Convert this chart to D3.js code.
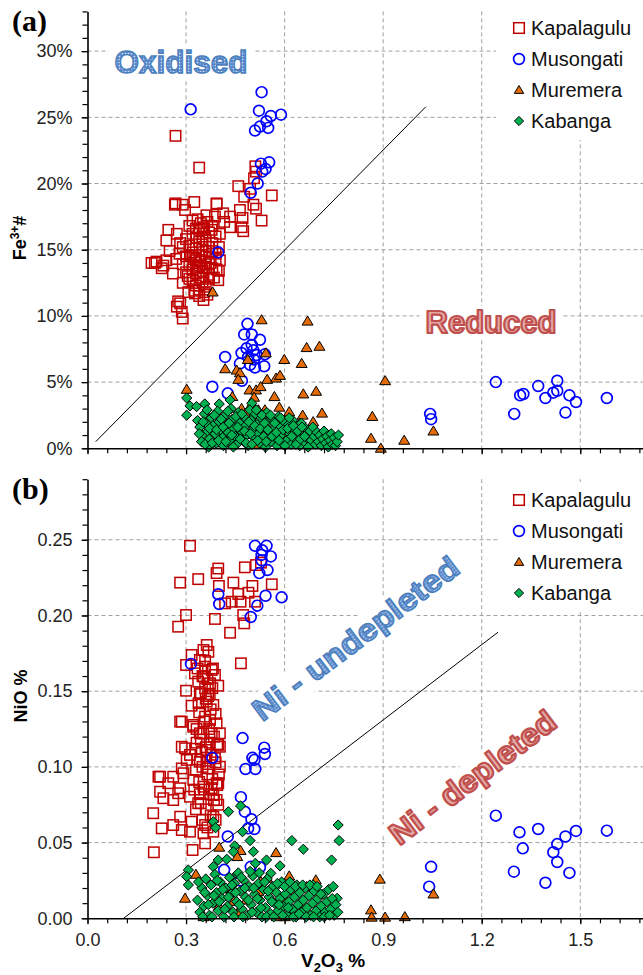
<!DOCTYPE html>
<html>
<head>
<meta charset="utf-8">
<script src="https://cdnjs.cloudflare.com/ajax/libs/d3/7.8.5/d3.min.js"></script>
<style>
body { margin: 0; background: #fff; }
svg { display: block; }
</style>
</head>
<body>
<svg id="chart" width="643" height="975"></svg>
<script>
"use strict";

var seriesNames = ["Kapalagulu", "Musongati", "Muremera", "Kabanga"];

var xMajor = [0, 0.3, 0.6, 0.9, 1.2, 1.5],
	xLabels = ["0.0", "0.3", "0.6", "0.9", "1.2", "1.5"],
	yMajorTop = [0, 5, 10, 15, 20, 25, 30],
	yLabelsTop = ["0%", "5%", "10%", "15%", "20%", "25%", "30%"],
	yMajorBot = [0, 0.05, 0.10, 0.15, 0.20, 0.25],
	yLabelsBot = ["0.00", "0.05", "0.10", "0.15", "0.20", "0.25"];

// boundary lines [x, y]
var lineTop = [[0.025, 0.5], [1.03, 25.8]],
	lineBot = [[0.11, 0.0], [1.25, 0.189]];

// (a) V2O3 % vs Fe3+# (%)
var kapTop = [
	[0.268,23.6],[0.34,21.2],
	[0.511,21.3],[0.513,20.9],[0.507,20.4],[0.459,19.8],[0.495,19.6],[0.477,19.0],[0.561,19.1],[0.505,18.4],
	[0.513,18.1],[0.393,18.5],[0.464,18.0],[0.434,17.5],[0.472,17.4],[0.530,17.2],[0.434,16.7],[0.469,16.7],[0.474,16.4],[0.416,17.1],
	[0.268,18.5],[0.29,18.4],[0.325,18.6],[0.393,18.45],[0.297,18.0],[0.362,17.6],[0.388,17.5],[0.413,17.75],[0.32,17.2],[0.246,16.5],
	[0.272,16.2],[0.24,15.7],[0.282,15.5],[0.353,16.7],[0.378,16.5],[0.403,16.2],[0.266,18.4],
	[0.195,14.0],[0.21,14.1],[0.231,13.8],[0.24,14.2],[0.226,13.6],[0.282,10.95],[0.272,10.7],[0.29,9.8],[0.287,10.3],
	[0.307,11.8],[0.353,11.2],[0.327,11.7],[0.398,12.7],[0.393,13.5],[0.403,14.2],[0.276,11.1],[0.205,14.0],
	[0.31,16.8],[0.32,16.2],[0.33,15.9],[0.34,16.5],[0.35,16.0],[0.36,15.7],[0.37,16.3],[0.38,15.5],[0.39,16.0],[0.40,15.2],
	[0.31,15.3],[0.32,14.8],[0.33,15.1],[0.34,14.6],[0.35,15.4],[0.36,14.9],[0.37,14.4],[0.38,14.9],[0.39,14.3],[0.33,14.2],
	[0.30,14.5],[0.31,13.9],[0.32,13.5],[0.33,13.2],[0.34,13.8],[0.35,13.4],[0.36,13.9],[0.37,13.1],[0.38,13.6],[0.345,12.9],
	[0.32,12.7],[0.33,12.3],[0.34,12.0],[0.35,12.5],[0.36,12.2],[0.37,12.8],[0.355,11.8],[0.34,11.5],[0.325,11.9],[0.365,11.6],
	[0.30,15.8],[0.29,15.2],[0.28,14.7],[0.27,14.3],[0.29,13.9],[0.30,13.3],[0.31,12.8],[0.29,12.5],[0.26,13.2],[0.25,14.9],
	[0.345,17.0],[0.355,16.6],[0.335,17.3],[0.365,17.1],[0.375,14.0],[0.385,12.9],[0.345,14.1],[0.355,13.6],[0.335,13.7],[0.325,14.4],
	[0.35,15.0],[0.36,14.5],[0.34,15.6],[0.33,16.6],[0.37,15.2],[0.38,16.8],[0.39,14.7],[0.40,13.4],[0.315,14.6],[0.305,13.0]
];
var musTop = [
	[0.314,25.6],[0.530,26.9],[0.522,25.5],[0.558,25.1],[0.589,25.2],[0.545,24.7],[0.525,24.3],[0.550,24.2],[0.510,24.0],
	[0.528,21.5],[0.553,21.6],[0.542,21.1],[0.532,20.9],[0.518,20.0],[0.497,19.3],[0.398,14.8],
	[0.487,9.4],[0.477,8.6],[0.500,8.6],[0.525,8.2],[0.500,7.8],[0.484,7.55],[0.505,7.4],[0.419,6.9],[0.469,7.2],[0.515,7.05],
	[0.540,7.1],[0.489,6.9],[0.507,6.7],[0.464,6.4],[0.495,6.3],[0.510,6.1],[0.538,6.2],[0.470,5.1],[0.380,4.65],[0.427,4.15],
	[1.043,2.6],[1.046,2.2],[1.243,5.0],[1.299,2.6],[1.317,4.0],[1.327,4.1],[1.372,4.7],[1.394,3.8],[1.418,4.2],[1.430,5.1],
	[1.430,4.35],[1.455,2.7],[1.467,4.0],[1.487,3.5],[1.581,3.8]
];
var murTop = [
	[0.530,9.7],[0.670,9.6],[0.667,7.6],[0.706,7.7],[0.543,7.2],[0.488,6.7],[0.599,6.7],[0.652,6.4],[0.419,6.0],[0.454,5.9],
	[0.464,5.7],[0.459,5.2],[0.547,5.2],[0.574,5.3],[0.586,5.5],[0.906,5.1],[0.302,4.45],[0.493,4.4],[0.513,4.4],[0.527,4.65],
	[0.441,3.9],[0.507,3.85],[0.569,3.9],[0.657,4.1],[0.696,4.3],[0.469,3.0],[0.52,2.9],[0.5,3.35],[0.584,3.1],[0.614,2.75],
	[0.655,2.5],[0.714,2.65],[0.540,2.9],[0.482,2.65],[0.687,2.0],[0.867,2.4],[0.863,0.75],[0.893,0.0],[0.601,0.6],[0.413,0.4],
	[0.378,0.4],[0.647,1.9],[0.464,1.9],[0.434,1.6],[0.381,11.8],[0.964,0.6],[1.053,1.3],[0.39,1.2],[0.55,1.5],[0.62,1.0],
	[0.45,0.9],[0.52,0.3]
];
var kabTop = [
	[0.302,3.8],[0.302,2.5],[0.312,3.2],[0.332,3.15],[0.357,3.35],[0.401,3.35],[0.434,3.65],[0.50,3.4],[0.505,2.4],
	[0.335,2.1],[0.342,1.6],[0.350,1.0],[0.347,0.5],[0.356,2.6],[0.361,1.9],[0.366,1.3],[0.371,0.7],[0.369,0.1],[0.377,2.3],
	[0.382,1.7],[0.388,1.1],[0.392,0.4],[0.396,2.8],[0.401,2.0],[0.405,1.4],[0.411,0.8],[0.414,0.2],[0.419,2.5],[0.424,1.8],
	[0.428,1.2],[0.433,0.6],[0.437,3.0],[0.441,2.2],[0.446,1.5],[0.450,0.9],[0.454,0.3],[0.459,2.7],[0.463,1.9],[0.468,1.3],
	[0.472,0.6],[0.476,2.4],[0.481,1.7],[0.485,1.0],[0.489,0.2],[0.494,2.9],[0.498,2.1],[0.503,1.4],[0.507,0.8],[0.511,2.6],
	[0.516,1.8],[0.520,1.1],[0.524,0.4],[0.529,2.3],[0.533,1.6],[0.537,0.9],[0.542,0.1],[0.546,2.7],[0.551,2.0],[0.555,1.2],
	[0.559,0.5],[0.564,2.2],[0.568,1.5],[0.572,0.8],[0.577,0.2],[0.581,2.4],[0.586,1.7],[0.590,1.0],[0.594,0.4],[0.599,2.0],
	[0.603,1.3],[0.607,0.6],[0.612,1.8],[0.616,1.1],[0.620,0.3],[0.625,2.1],[0.629,1.4],[0.633,0.7],[0.638,1.7],[0.642,1.0],
	[0.646,0.2],[0.651,1.9],[0.655,1.2],[0.659,0.5],[0.664,1.5],[0.668,0.8],[0.672,0.1],[0.677,1.3],[0.681,0.6],[0.686,1.6],
	[0.690,0.9],[0.694,0.3],[0.699,1.2],[0.703,0.5],[0.707,1.0],[0.712,0.2],[0.716,0.7],[0.720,1.3],[0.725,0.4],[0.729,0.9],
	[0.733,0.1],[0.738,0.6],[0.742,1.1],[0.746,0.3],[0.751,0.8],[0.755,0.2],[0.760,0.5],[0.764,1.0],
	[0.340,1.1],[0.352,2.0],[0.358,0.3],[0.364,2.9],[0.372,1.5],[0.380,0.4],[0.386,2.5],[0.393,1.4],[0.399,0.6],[0.407,2.2],
	[0.413,1.6],[0.421,0.5],[0.427,2.8],[0.431,1.9],[0.439,1.0],[0.444,0.1],[0.452,2.4],[0.457,1.6],[0.465,0.7],[0.470,2.6],
	[0.478,1.3],[0.483,0.4],[0.491,2.0],[0.496,1.1],[0.501,0.3],[0.509,1.7],[0.514,2.9],[0.518,0.6],[0.526,1.5],[0.531,2.5],
	[0.539,1.9],[0.544,0.5],[0.549,1.4],[0.557,2.5],[0.562,0.9],[0.570,1.9],[0.575,1.2],[0.583,0.6],[0.588,2.3],[0.596,1.4],
	[0.601,0.2],[0.609,1.5],[0.614,2.3],[0.622,0.9],[0.627,1.7],[0.635,0.3],[0.640,1.3],[0.648,0.7],[0.653,1.6],[0.661,0.9]
];

// (b) V2O3 % vs NiO %
var kapBot = [
	[0.312,0.246],[0.398,0.231],[0.393,0.228],[0.282,0.2217],[0.337,0.224],[0.400,0.2195],[0.444,0.2217],[0.479,0.2318],[0.502,0.2195],[0.561,0.2206],
	[0.513,0.2333],[0.459,0.2142],[0.490,0.2150],[0.466,0.2091],[0.439,0.2091],[0.510,0.2091],[0.419,0.208],[0.474,0.2003],[0.388,0.1977],[0.300,0.2003],
	[0.276,0.1926],[0.477,0.1948],[0.434,0.1886],[0.467,0.1684],[0.528,0.2349],
	[0.363,0.1805],[0.353,0.1772],[0.317,0.1739],[0.342,0.1706],[0.300,0.1673],[0.358,0.1662],[0.378,0.164],[0.327,0.1618],[0.353,0.1596],[0.388,0.1607],
	[0.337,0.1563],[0.373,0.1552],[0.358,0.1519],[0.398,0.1536],[0.300,0.1503],[0.342,0.1486],[0.367,0.1468],[0.317,0.1404],[0.363,0.1431],[0.383,0.1409],
	[0.282,0.1299],[0.322,0.1265],[0.358,0.1332],[0.393,0.1288],[0.342,0.1222],[0.378,0.1222],[0.287,0.1133],[0.332,0.1160],[0.403,0.1133],[0.363,0.1112],
	[0.312,0.1079],[0.388,0.1057],[0.342,0.1034],[0.367,0.099],[0.216,0.0935],[0.246,0.0892],[0.292,0.0958],[0.322,0.0914],[0.393,0.0892],[0.353,0.0869],
	[0.221,0.0836],[0.276,0.0826],[0.312,0.0803],[0.383,0.0814],
	[0.200,0.0694],[0.231,0.0793],[0.226,0.0594],[0.261,0.0616],[0.282,0.0671],[0.317,0.0638],[0.287,0.0583],[0.353,0.0561],[0.312,0.0572],[0.358,0.0495],
	[0.320,0.0451],[0.202,0.0436],[0.383,0.0572],[0.337,0.076],[0.393,0.0781],[0.261,0.0781],[0.282,0.0859],[0.261,0.0935],[0.221,0.0935],[0.287,0.099],
	[0.302,0.1046],[0.297,0.1123],[0.287,0.1299],[0.322,0.1277],[0.373,0.131],[0.403,0.1222],[0.398,0.1145],[0.398,0.0892],[0.403,0.1001],[0.383,0.0671],
	[0.358,0.0616],
	[0.335,0.165],[0.350,0.160],[0.365,0.158],[0.380,0.152],[0.345,0.148],[0.360,0.145],[0.375,0.138],[0.390,0.135],[0.340,0.136],[0.355,0.130],
	[0.370,0.125],[0.385,0.120],[0.345,0.118],[0.360,0.113],[0.375,0.108],[0.390,0.103],[0.335,0.105],[0.350,0.100],[0.365,0.095],[0.380,0.092],
	[0.395,0.088],[0.340,0.090],[0.355,0.085],[0.370,0.082],[0.385,0.078],[0.345,0.076],[0.360,0.072],[0.375,0.068],[0.390,0.065],[0.350,0.065],
	[0.365,0.060],[0.330,0.072],[0.325,0.085],[0.330,0.098],[0.328,0.112],[0.332,0.125],[0.338,0.142],[0.372,0.148],[0.382,0.165],[0.395,0.115],
	[0.400,0.095],[0.398,0.075],[0.358,0.170],[0.368,0.176],[0.352,0.122],[0.362,0.104],[0.372,0.116],[0.348,0.110],[0.378,0.086],[0.342,0.082]
];
var musBot = [
	[0.510,0.246],[0.545,0.246],[0.532,0.243],[0.530,0.240],[0.558,0.239],[0.530,0.2365],[0.523,0.228],[0.548,0.230],[0.398,0.214],[0.401,0.2076],
	[0.517,0.2065],[0.542,0.213],[0.591,0.212],[0.497,0.199],[0.315,0.168],
	[0.472,0.119],[0.502,0.106],[0.508,0.1046],[0.538,0.1127],[0.540,0.1085],[0.481,0.0986],[0.511,0.0986],[0.380,0.106],[0.467,0.080],[0.479,0.0704],
	[0.499,0.0654],[0.489,0.0594],[0.508,0.059],[0.427,0.054],[0.416,0.032],[0.497,0.034],[0.525,0.0337],[0.464,0.025],
	[1.243,0.0678],[1.315,0.0568],[1.325,0.0462],[1.372,0.059],[1.298,0.0308],[1.394,0.0235],[1.418,0.0436],[1.430,0.049],[1.430,0.0372],[1.455,0.054],
	[1.467,0.030],[1.487,0.0577],[1.581,0.0579],[1.046,0.034],[1.040,0.0209]
];
var murBot = [
	[0.401,0.0469],[0.466,0.0447],[0.456,0.0407],[0.574,0.0433],[0.614,0.0279],[0.547,0.0264],[0.528,0.0242],[0.890,0.0258],[0.863,0.0055],[0.865,0.0007],
	[0.906,0.0007],[0.695,0.0253],[0.667,0.0209],[0.601,0.0132],[0.419,0.0198],[0.297,0.0132],[0.444,0.011],[0.484,0.0121],[0.576,0.001],[0.601,0.001],
	[0.353,0.001],[0.647,0.0099],[0.459,0.0044],[0.966,0.001],[1.053,0.016],[0.33,0.029],[0.52,0.0175],[0.40,0.008],[0.70,0.004],[0.63,0.018]
];
var kabBot = [
	[0.429,0.0704],[0.466,0.0742],[0.383,0.0638],[0.390,0.0598],[0.472,0.0572],[0.495,0.0513],[0.622,0.0513],[0.763,0.0616],[0.766,0.0513],[0.657,0.0456],
	[0.743,0.0385],[0.505,0.0440],[0.448,0.0478],[0.444,0.044],[0.545,0.0385],[0.511,0.0363],[0.586,0.0346],[0.398,0.0385],[0.424,0.039],[0.307,0.0319],
	[0.302,0.0275],[0.307,0.022],[0.383,0.0341],[0.456,0.0293],[0.558,0.0297],[0.579,0.022],[0.637,0.022],[0.687,0.022],[0.760,0.0132],
	[0.335,0.012],[0.342,0.004],[0.348,0.020],[0.354,0.008],[0.360,0.026],[0.365,0.015],[0.371,0.002],[0.376,0.022],[0.382,0.010],[0.388,0.029],
	[0.393,0.017],[0.398,0.005],[0.404,0.024],[0.410,0.013],[0.415,0.001],[0.421,0.020],[0.426,0.008],[0.432,0.027],[0.437,0.016],[0.443,0.004],
	[0.448,0.023],[0.454,0.011],[0.459,0.030],[0.465,0.018],[0.470,0.006],[0.476,0.025],[0.481,0.014],[0.487,0.002],[0.492,0.021],[0.498,0.009],
	[0.503,0.028],[0.509,0.016],[0.514,0.004],[0.520,0.023],[0.525,0.012],[0.531,0.001],[0.536,0.019],[0.542,0.007],[0.547,0.026],[0.553,0.014],
	[0.558,0.003],[0.564,0.021],[0.569,0.010],[0.575,0.017],[0.580,0.005],[0.586,0.013],[0.591,0.024],[0.597,0.008],[0.602,0.016],[0.608,0.002],
	[0.613,0.011],[0.619,0.019],[0.624,0.006],[0.630,0.014],[0.635,0.001],[0.641,0.009],[0.646,0.017],[0.652,0.004],[0.657,0.012],[0.663,0.020],
	[0.668,0.007],[0.674,0.015],[0.679,0.002],[0.685,0.010],[0.690,0.018],[0.696,0.005],[0.701,0.013],[0.707,0.001],[0.712,0.008],[0.718,0.016],
	[0.723,0.004],[0.729,0.011],[0.734,0.019],[0.740,0.006],[0.745,0.013],[0.751,0.002],[0.756,0.009],[0.762,0.004],
	[0.338,0.024],[0.351,0.001],[0.357,0.017],[0.368,0.009],[0.379,0.001],[0.385,0.015],[0.395,0.025],[0.401,0.011],[0.412,0.019],[0.418,0.006],
	[0.429,0.014],[0.440,0.022],[0.446,0.001],[0.451,0.017],[0.462,0.009],[0.468,0.027],[0.473,0.001],[0.479,0.020],[0.490,0.012],[0.495,0.031],
	[0.501,0.004],[0.506,0.020],[0.517,0.013],[0.523,0.030],[0.528,0.007],[0.539,0.024],[0.545,0.001],[0.550,0.018],[0.561,0.011],[0.567,0.001],
	[0.578,0.023],[0.583,0.009],[0.594,0.002],[0.600,0.021],[0.611,0.007],[0.616,0.024],[0.627,0.001],[0.633,0.021],[0.644,0.003],[0.655,0.022],
	[0.666,0.001],[0.677,0.022],[0.688,0.001],[0.699,0.021],[0.710,0.016],[0.721,0.001],[0.737,0.002],[0.748,0.021]
];

var svg = d3.select("#chart");
var W = 643,
	FONT = "Liberation Sans, Arial, sans-serif";

var defs = svg.append("defs");
var pat = defs.append("pattern").attr("id", "dots")
	.attr("width", 3).attr("height", 3).attr("patternUnits", "userSpaceOnUse");
pat.append("rect").attr("width", 3).attr("height", 3).attr("fill", "#5b8bcf");
pat.append("circle").attr("cx", 1.5).attr("cy", 1.5).attr("r", 0.85).attr("fill", "#d4e2f4");

var x = d3.scaleLinear().domain([0, 1.7]).range([87.5, 87.5 + 328.5 * 1.7]);

var diamond = function(s) { return "M0," + (-s) + "L" + s + ",0L0," + s + "L" + (-s) + ",0Z"; };
var triangle = function(s) { return "M0," + (-s) + "L" + (s * 1.05) + "," + (s * 0.75) + "L" + (-s * 1.05) + "," + (s * 0.75) + "Z"; };

function drawMarkers(g, name, data, y, leg) {
	var sel = g.append("g").selectAll("path").data(data).enter();
	if (name == "Kapalagulu") {
		var h = leg ? 5.3 : 5.2;
		sel.append("rect")
			.attr("x", function(d) { return x(d[0]) - h; })
			.attr("y", function(d) { return y(d[1]) - h; })
			.attr("width", h * 2).attr("height", h * 2)
			.attr("fill", "none").attr("stroke", "#c00000").attr("stroke-width", 1.5);
	} else if (name == "Musongati") {
		sel.append("circle")
			.attr("cx", function(d) { return x(d[0]); })
			.attr("cy", function(d) { return y(d[1]); })
			.attr("r", 5.4)
			.attr("fill", "none").attr("stroke", "#0000ff").attr("stroke-width", 1.7);
	} else if (name == "Muremera") {
		sel.append("path")
			.attr("d", triangle(leg ? 4.5 : 5.2))
			.attr("transform", function(d) { return "translate(" + x(d[0]) + "," + y(d[1]) + ")"; })
			.attr("fill", "#e36c09").attr("stroke", "#000").attr("stroke-width", 1);
	} else {
		sel.append("path")
			.attr("d", diamond(leg ? 4.6 : 5.1))
			.attr("transform", function(d) { return "translate(" + x(d[0]) + "," + y(d[1]) + ")"; })
			.attr("fill", "#00b050").attr("stroke", "#000").attr("stroke-width", 1);
	}
}

function drawPanel(cfg) {
	var y = cfg.y, g = svg.append("g");
	var top = y.range()[1], bottom = y.range()[0];

	// grid
	g.selectAll(".hgrid").data(cfg.yMajor.slice(1)).enter().append("line")
		.attr("x1", x(0)).attr("x2", W)
		.attr("y1", function(d) { return y(d); }).attr("y2", function(d) { return y(d); })
		.attr("stroke", "#a0a0a0").attr("stroke-dasharray", "4,3");
	g.selectAll(".vgrid").data(xMajor.slice(1)).enter().append("line")
		.attr("x1", function(d) { return x(d); }).attr("x2", function(d) { return x(d); })
		.attr("y1", top).attr("y2", bottom)
		.attr("stroke", "#a0a0a0").attr("stroke-dasharray", "4,3");

	// white boxes behind legend and labels
	g.append("rect").attr("x", cfg.legendBox[0]).attr("y", cfg.legendBox[1])
		.attr("width", W - cfg.legendBox[0]).attr("height", cfg.legendBox[2]).attr("fill", "#fff");
	cfg.labels.forEach(function(l) {
		var t = g.append("g").attr("transform", "translate(" + l.x + "," + l.y + ") rotate(" + l.rot + ")");
		t.append("rect").attr("x", -l.w / 2 - 6).attr("y", -27).attr("width", l.w + 12).attr("height", 34).attr("fill", "#fff");
	});

	// boundary line
	g.append("line")
		.attr("x1", x(cfg.line[0][0])).attr("y1", y(cfg.line[0][1]))
		.attr("x2", x(cfg.line[1][0])).attr("y2", y(cfg.line[1][1]))
		.attr("stroke", "#000").attr("stroke-width", 1);

	cfg.series.forEach(function(s, i) { drawMarkers(g, seriesNames[i], s, y, false); });

	// region labels
	cfg.labels.forEach(function(l) {
		var t = g.append("text")
			.attr("transform", "translate(" + l.x + "," + l.y + ") rotate(" + l.rot + ")")
			.attr("text-anchor", "middle").attr("font-family", FONT)
			.attr("font-size", 31).attr("font-weight", "bold")
			.attr("textLength", l.w).attr("lengthAdjust", "spacingAndGlyphs")
			.text(l.text);
		if (l.blue) t.attr("fill", "url(#dots)").attr("stroke", "#4a7ebb").attr("stroke-width", 1.4);
		else t.attr("fill", "#e4aaa8").attr("stroke", "#c0504d").attr("stroke-width", 2.2)
			.attr("stroke-linejoin", "round");
	});

	// axes
	g.append("g").attr("transform", "translate(" + x(0) + ",0)")
		.call(d3.axisLeft(y).tickValues(cfg.yMajor).tickFormat(function(d, i) { return cfg.yLabels[i]; })
			.tickSize(6).tickSizeOuter(0).tickPadding(9));
	g.append("g").attr("transform", "translate(" + x(0) + ",0)")
		.call(d3.axisLeft(y).tickValues(d3.range(0, cfg.yMax + 1e-9, cfg.yMinor)).tickFormat("").tickSize(5).tickSizeOuter(0))
		.select(".domain").remove();
	g.append("g").attr("transform", "translate(0," + bottom + ")")
		.call(d3.axisBottom(x).tickValues(xMajor).tickFormat(function(d, i) { return cfg.xText ? xLabels[i] : ""; })
			.tickSize(6).tickSizeOuter(0).tickPadding(9));
	g.append("g").attr("transform", "translate(0," + bottom + ")")
		.call(d3.axisBottom(x).tickValues(d3.range(0, 1.7, 0.06)).tickFormat("").tickSize(5).tickSizeOuter(0))
		.select(".domain").remove();
	g.selectAll(".domain").attr("stroke", "#000").attr("stroke-width", 1.6);
	g.selectAll(".tick line").attr("stroke", "#000").attr("stroke-width", 1.2);
	g.selectAll(".tick text").attr("font-size", 18).attr("font-family", FONT).attr("fill", "#222");

	// legend
	seriesNames.forEach(function(n, i) {
		var ly = cfg.legendY + i * 31;
		var lg = g.append("g");
		var fakeY = function() { return ly; };
		drawMarkers(lg, n, [[x.invert(519), 0]], fakeY, true);
		lg.append("text").attr("x", 531).attr("y", ly).attr("dy", "0.35em")
			.attr("font-family", FONT).attr("font-size", 20).attr("fill", "#111").text(n);
	});

	// panel letter
	g.append("text").attr("x", 12).attr("y", cfg.letterY)
		.attr("font-family", "Liberation Serif, Times New Roman, serif")
		.attr("font-weight", "bold").attr("font-size", 30).text(cfg.letter);
}

drawPanel({
	y: d3.scaleLinear().domain([0, 33]).range([448.3, 11.4]),
	yMajor: yMajorTop, yLabels: yLabelsTop, yMinor: 1, yMax: 33,
	line: lineTop, series: [kapTop, musTop, murTop, kabTop],
	legendBox: [496, 10, 130], legendY: 28,
	labels: [
		{ text: "Oxidised", x: 181, y: 73, rot: 0, w: 133, blue: true },
		{ text: "Reduced", x: 491, y: 333, rot: 0, w: 131, blue: false }
	],
	letter: "(a)", letterY: 31, xText: false
});

drawPanel({
	y: d3.scaleLinear().domain([0, 0.29]).range([918.3, 479.2]),
	yMajor: yMajorBot, yLabels: yLabelsBot, yMinor: 0.01, yMax: 0.29,
	line: lineBot, series: [kapBot, musBot, murBot, kabBot],
	legendBox: [499, 482, 130], legendY: 500,
	labels: [
		{ text: "Ni - undepleted", x: 362, y: 647, rot: -37, w: 250, blue: true },
		{ text: "Ni - depleted", x: 479, y: 786, rot: -37, w: 200, blue: false }
	],
	letter: "(b)", letterY: 499, xText: true
});

// axis titles
svg.append("text").attr("transform", "translate(26,238) rotate(-90)")
	.attr("text-anchor", "middle").attr("font-family", FONT).attr("font-weight", "bold").attr("font-size", 18)
	.call(function(t) {
		t.append("tspan").text("Fe");
		t.append("tspan").attr("dy", -7).attr("font-size", 12).text("3+");
		t.append("tspan").attr("dy", 7).text("#");
	});
svg.append("text").attr("transform", "translate(27,696) rotate(-90)")
	.attr("text-anchor", "middle").attr("font-family", FONT).attr("font-weight", "bold").attr("font-size", 18).text("NiO %");
svg.append("text").attr("x", 333).attr("y", 967)
	.attr("text-anchor", "middle").attr("font-family", FONT).attr("font-weight", "bold").attr("font-size", 19)
	.call(function(t) {
		t.append("tspan").text("V");
		t.append("tspan").attr("dy", 5).attr("font-size", 13).text("2");
		t.append("tspan").attr("dy", -5).text("O");
		t.append("tspan").attr("dy", 5).attr("font-size", 13).text("3");
		t.append("tspan").attr("dy", -5).text(" %");
	});
</script>
</body>
</html>
